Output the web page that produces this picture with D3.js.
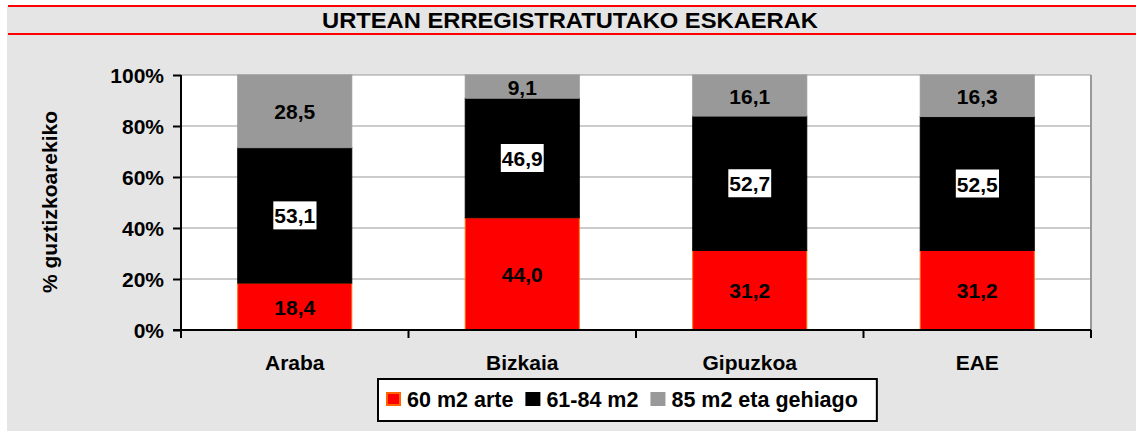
<!DOCTYPE html>
<html>
<head>
<meta charset="utf-8">
<script src="https://cdn.jsdelivr.net/npm/d3@7"></script>
<style>
  body { margin:0; background:#fff; }
  text { font-family: "Liberation Sans", Arial, sans-serif; font-weight: bold; }
</style>
</head>
<body>
<svg id="svg" width="1136" height="433"></svg>
<script>
// chart data
var categories = ["Araba", "Bizkaia", "Gipuzkoa", "EAE"];
var seriesNames = ["60 m2 arte", "61-84 m2", "85 m2 eta gehiago"];
var small  = [18.4, 44.0, 31.2, 31.2];   // 60 m2 arte
var medium = [53.1, 46.9, 52.7, 52.5];   // 61-84 m2
var large  = [28.5, 9.1, 16.1, 16.3];    // 85 m2 eta gehiago
var yTicks = [0, 20, 40, 60, 80, 100];
var title = "URTEAN ERREGISTRATUTAKO ESKAERAK";
var yLabel = "% guztizkoarekiko";

var fills   = ["#ff0000", "#000000", "#999999"];
var strokes = ["#ff6600", "#000000", "#999999"];

var svg = d3.select("#svg"),
	wsvg = +svg.attr("width"),
	hsvg = +svg.attr("height");

var margin = { left:181, right:45, top:75, bottom:103 };
var plotW = wsvg - margin.left - margin.right,
	plotH = hsvg - margin.top - margin.bottom;
var fs = "21px";	// font size used for most texts

// background panel + red title rules
svg.append("rect")
	.attr("x", 7).attr("y", 6)
	.attr("width", wsvg - 7).attr("height", 425)
	.style("fill", "#e5e5e5");

[6, 34].forEach(function(y){
	svg.append("line")
		.attr("x1", 8).attr("x2", wsvg)
		.attr("y1", y).attr("y2", y)
		.style("stroke", "#ff0000").style("stroke-width", 2);
});

svg.append("text")
	.attr("x", 570).attr("y", 28)
	.attr("text-anchor", "middle")
	.attr("textLength", 496)
	.attr("lengthAdjust", "spacingAndGlyphs")
	.style("font-size", "22.5px")
	.text(title);

// scales
var x = d3.scaleBand().domain(categories)
	.range([margin.left, margin.left + plotW])
	.paddingInner(0.49).paddingOuter(0.245);
var y = d3.scaleLinear().domain([0, 100])
	.range([margin.top + plotH, margin.top]);

// stack the three series
var rows = categories.map(function(c, i){
	return { cat:c, s0:small[i], s1:medium[i], s2:large[i] };
});
var stacked = d3.stack().keys(["s0", "s1", "s2"])(rows);

// plot area
svg.append("rect")
	.attr("x", margin.left).attr("y", margin.top)
	.attr("width", plotW).attr("height", plotH)
	.style("fill", "#fff");

// gridlines
svg.selectAll(".grid").data(yTicks.filter(function(d){ return d > 0; }))
	.enter().append("line")
	.attr("x1", margin.left).attr("x2", margin.left + plotW)
	.attr("y1", function(d){ return y(d); })
	.attr("y2", function(d){ return y(d); })
	.style("stroke", "#999").style("stroke-width", 1);

// right border
svg.append("line")
	.attr("x1", margin.left + plotW).attr("x2", margin.left + plotW)
	.attr("y1", margin.top).attr("y2", margin.top + plotH)
	.style("stroke", "#999").style("stroke-width", 2);

// bars
var layer = svg.selectAll(".layer").data(stacked)
	.enter().append("g").attr("class", "layer");

layer.selectAll("rect").data(function(d){ return d.map(function(v){ return { v:v, k:d.index }; }); })
	.enter().append("rect")
	.attr("x", function(d){ return x(d.v.data.cat) + 1; })
	.attr("y", function(d){ return y(d.v[1]); })
	.attr("width", x.bandwidth() - 2)
	.attr("height", function(d){ return y(d.v[0]) - y(d.v[1]); })
	.style("fill", function(d){ return fills[d.k]; })
	.style("stroke", function(d){ return strokes[d.k]; })
	.style("stroke-width", 1);

// data labels
layer.each(function(s){
	var g = d3.select(this);
	s.forEach(function(v){
		var val = v[1] - v[0];
		var cx = x(v.data.cat) + x.bandwidth() / 2;
		var cy = (y(v[0]) + y(v[1])) / 2;
		var t = g.append("text")
			.attr("x", cx).attr("y", cy + 8)
			.attr("text-anchor", "middle")
			.style("font-size", fs)
			.style("fill", "#000")
			.text(val.toFixed(1).replace(".", ","));
		if (s.index === 1) {
			var bb = t.node().getBBox();
			g.insert("rect", function(){ return t.node(); })
				.attr("x", bb.x - 1).attr("y", cy - 14)
				.attr("width", bb.width + 2).attr("height", 28)
				.style("fill", "#fff");
		}
	});
});

// axes
var yAxis = d3.axisLeft(y).tickValues(yTicks).tickSize(8)
	.tickFormat(function(d){ return d + "%"; });
var yg = svg.append("g")
	.attr("transform", "translate(" + margin.left + ",0)")
	.call(yAxis);
yg.select(".domain").style("stroke", "#000").style("stroke-width", 2).attr("d", "M0," + y(0) + "V" + y(100));
yg.selectAll(".tick line").style("stroke", "#000").style("stroke-width", 2);
yg.selectAll(".tick text")
	.attr("x", -17).attr("dy", "0.36em")
	.style("font-size", fs).style("font-family", "Liberation Sans, Arial, sans-serif")
	.style("font-weight", "bold").style("fill", "#000");

var xg = svg.append("g")
	.attr("transform", "translate(0," + y(0) + ")");
xg.append("line")
	.attr("x1", margin.left - 8).attr("x2", margin.left + plotW)
	.style("stroke", "#000").style("stroke-width", 2);
var bounds = categories.map(function(c){ return x(c) - x.step() * x.paddingInner() / 2; })
	.concat([margin.left + plotW]);
xg.selectAll(".xt").data(bounds).enter().append("line")
	.attr("x1", function(d){ return d; }).attr("x2", function(d){ return d; })
	.attr("y1", 0).attr("y2", 8)
	.style("stroke", "#000").style("stroke-width", 2);
xg.selectAll(".cat").data(categories).enter().append("text")
	.attr("x", function(d){ return x(d) + x.bandwidth() / 2; })
	.attr("y", 40)
	.attr("text-anchor", "middle")
	.style("font-size", fs)
	.text(function(d){ return d; });

// y axis title
svg.append("text")
	.attr("transform", "translate(57,202) rotate(-90)")
	.attr("text-anchor", "middle")
	.style("font-size", fs)
	.text(yLabel);

// legend
var legend = svg.append("g");
var box = legend.append("rect")
	.attr("x", 378).attr("y", 379)
	.attr("width", 500).attr("height", 42)
	.style("fill", "#fff").style("stroke", "#000").style("stroke-width", 2);
var lx = 387;
seriesNames.forEach(function(name, i){
	legend.append("rect")
		.attr("x", lx).attr("y", 393)
		.attr("width", 13).attr("height", 12)
		.style("fill", fills[i]).style("stroke", strokes[i]).style("stroke-width", 2);
	var t = legend.append("text")
		.attr("x", lx + 20).attr("y", 407)
		.style("font-size", "21.5px")
		.text(name);
	lx += 20 + t.node().getComputedTextLength() + 13;
});
box.attr("width", lx - 378 + 6);
</script>
</body>
</html>
